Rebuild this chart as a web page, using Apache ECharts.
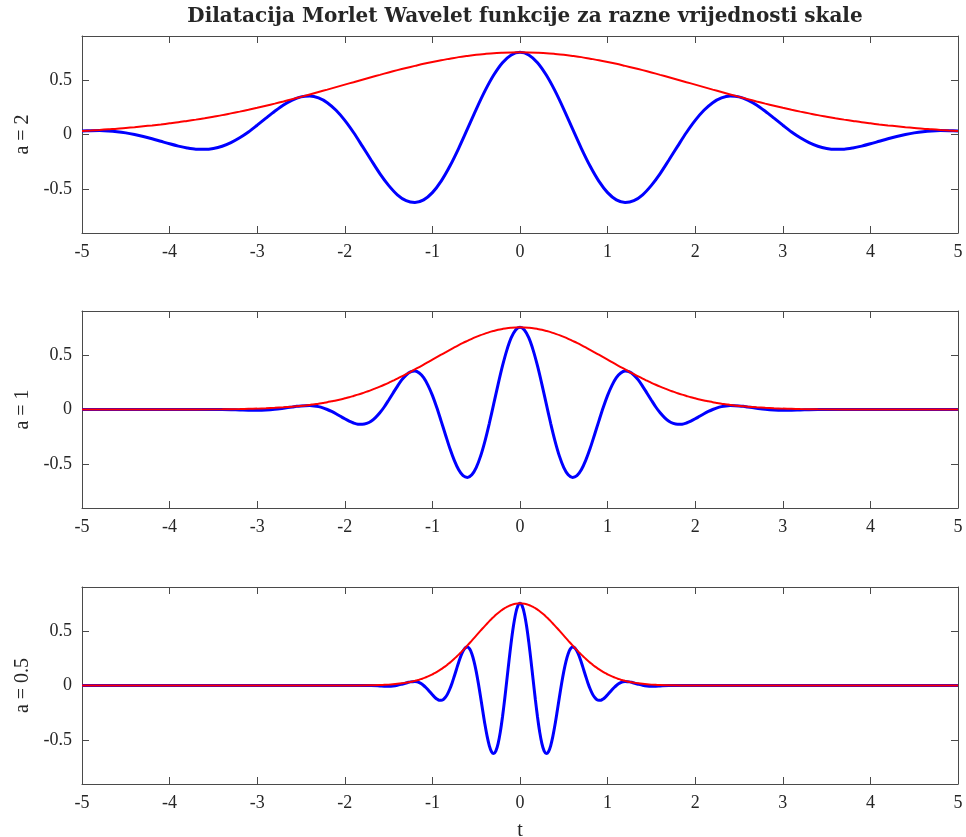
<!DOCTYPE html>
<html>
<head>
<meta charset="utf-8">
<script src="https://cdn.jsdelivr.net/npm/echarts@6/dist/echarts.min.js"></script>
<style>
    html, body { margin: 0; padding: 0; background: #fff; }
    #chart { width: 966px; height: 837px; }
</style>
</head>
<body>
<div id="chart"></div>
<script>
"use strict";
// a = 2 : t od -5 do 5, korak 0.1
const tA2 = [
    -5, -4.9, -4.8, -4.7, -4.6, -4.5, -4.4, -4.3, -4.2, -4.1,
    -4, -3.9, -3.8, -3.7, -3.6, -3.5, -3.4, -3.3, -3.2, -3.1,
    -3, -2.9, -2.8, -2.7, -2.6, -2.5, -2.4, -2.3, -2.2, -2.1,
    -2, -1.9, -1.8, -1.7, -1.6, -1.5, -1.4, -1.3, -1.2, -1.1,
    -1, -0.9, -0.8, -0.7, -0.6, -0.5, -0.4, -0.3, -0.2, -0.1,
    0,
    0.1, 0.2, 0.3, 0.4, 0.5, 0.6, 0.7, 0.8, 0.9, 1,
    1.1, 1.2, 1.3, 1.4, 1.5, 1.6, 1.7, 1.8, 1.9, 2,
    2.1, 2.2, 2.3, 2.4, 2.5, 2.6, 2.7, 2.8, 2.9, 3,
    3.1, 3.2, 3.3, 3.4, 3.5, 3.6, 3.7, 3.8, 3.9, 4,
    4.1, 4.2, 4.3, 4.4, 4.5, 4.6, 4.7, 4.8, 4.9, 5
];
const waveA2 = [
    0.033, 0.035, 0.036, 0.033, 0.026, 0.015, 0.000, -0.018, -0.039, -0.062,
    -0.085, -0.106, -0.123, -0.134, -0.135, -0.127, -0.107, -0.074, -0.030, 0.023,
    0.085, 0.149, 0.212, 0.270, 0.315, 0.344, 0.351, 0.334, 0.291, 0.221,
    0.129, 0.018, -0.106, -0.233, -0.357, -0.465, -0.551, -0.605, -0.621, -0.597,
    -0.531, -0.426, -0.288, -0.126, 0.051, 0.230, 0.398, 0.543, 0.656, 0.727,
    0.751,
    0.727, 0.656, 0.543, 0.398, 0.230, 0.051, -0.126, -0.288, -0.426, -0.531,
    -0.597, -0.621, -0.605, -0.551, -0.465, -0.357, -0.233, -0.106, 0.018, 0.129,
    0.221, 0.291, 0.334, 0.351, 0.344, 0.315, 0.270, 0.212, 0.149, 0.085,
    0.023, -0.030, -0.074, -0.107, -0.127, -0.135, -0.134, -0.123, -0.106, -0.085,
    -0.062, -0.039, -0.018, 0.000, 0.015, 0.026, 0.033, 0.036, 0.035, 0.033
];
const envA2 = [
    0.033, 0.037, 0.042, 0.048, 0.053, 0.060, 0.067, 0.075, 0.083, 0.092,
    0.102, 0.112, 0.124, 0.136, 0.149, 0.163, 0.177, 0.193, 0.209, 0.226,
    0.244, 0.263, 0.282, 0.302, 0.323, 0.344, 0.366, 0.388, 0.410, 0.433,
    0.456, 0.478, 0.501, 0.523, 0.545, 0.567, 0.588, 0.608, 0.627, 0.646,
    0.663, 0.679, 0.693, 0.707, 0.718, 0.728, 0.736, 0.743, 0.747, 0.750,
    0.751,
    0.750, 0.747, 0.743, 0.736, 0.728, 0.718, 0.707, 0.693, 0.679, 0.663,
    0.646, 0.627, 0.608, 0.588, 0.567, 0.545, 0.523, 0.501, 0.478, 0.456,
    0.433, 0.410, 0.388, 0.366, 0.344, 0.323, 0.302, 0.282, 0.263, 0.244,
    0.226, 0.209, 0.193, 0.177, 0.163, 0.149, 0.136, 0.124, 0.112, 0.102,
    0.092, 0.083, 0.075, 0.067, 0.060, 0.053, 0.048, 0.042, 0.037, 0.033
];

// a = 1
const tA1 = [
    -5, -4, -3.4, -3.2, -3.1, -3, -2.9, -2.8, -2.7, -2.6, -2.55,
    -2.5, -2.45, -2.4, -2.35, -2.3, -2.25, -2.2, -2.15, -2.1, -2.05,
    -2, -1.95, -1.9, -1.85, -1.8, -1.75, -1.7, -1.65, -1.6, -1.55,
    -1.5, -1.45, -1.4, -1.35, -1.3, -1.25, -1.2, -1.15, -1.1, -1.05,
    -1, -0.95, -0.9, -0.85, -0.8, -0.75, -0.7, -0.65, -0.6, -0.55,
    -0.5, -0.45, -0.4, -0.35, -0.3, -0.25, -0.2, -0.15, -0.1, -0.05,
    0,
    0.05, 0.1, 0.15, 0.2, 0.25, 0.3, 0.35, 0.4, 0.45, 0.5,
    0.55, 0.6, 0.65, 0.7, 0.75, 0.8, 0.85, 0.9, 0.95, 1,
    1.05, 1.1, 1.15, 1.2, 1.25, 1.3, 1.35, 1.4, 1.45, 1.5,
    1.55, 1.6, 1.65, 1.7, 1.75, 1.8, 1.85, 1.9, 1.95, 2,
    2.05, 2.1, 2.15, 2.2, 2.25, 2.3, 2.35, 2.4, 2.45, 2.5,
    2.55, 2.6, 2.7, 2.8, 2.9, 3, 3.1, 3.2, 3.4, 4, 5
];
const waveA1 = [
    0, 0, -0.001, -0.004, -0.006, -0.006, -0.004, 0.002, 0.012, 0.023, 0.029,
    0.033, 0.035, 0.036, 0.033, 0.026, 0.015, 0.000, -0.018, -0.039, -0.062,
    -0.085, -0.106, -0.123, -0.134, -0.135, -0.127, -0.107, -0.074, -0.030, 0.023,
    0.085, 0.149, 0.212, 0.270, 0.315, 0.344, 0.351, 0.334, 0.291, 0.221,
    0.129, 0.018, -0.106, -0.233, -0.357, -0.465, -0.551, -0.605, -0.621, -0.597,
    -0.531, -0.426, -0.288, -0.126, 0.051, 0.230, 0.398, 0.543, 0.656, 0.727,
    0.751,
    0.727, 0.656, 0.543, 0.398, 0.230, 0.051, -0.126, -0.288, -0.426, -0.531,
    -0.597, -0.621, -0.605, -0.551, -0.465, -0.357, -0.233, -0.106, 0.018, 0.129,
    0.221, 0.291, 0.334, 0.351, 0.344, 0.315, 0.270, 0.212, 0.149, 0.085,
    0.023, -0.030, -0.074, -0.107, -0.127, -0.135, -0.134, -0.123, -0.106, -0.085,
    -0.062, -0.039, -0.018, 0.000, 0.015, 0.026, 0.033, 0.036, 0.035, 0.033,
    0.029, 0.023, 0.012, 0.002, -0.004, -0.006, -0.006, -0.004, -0.001, 0, 0
];
const envA1 = [
    0, 0, 0.002, 0.004, 0.006, 0.008, 0.011, 0.015, 0.020, 0.026, 0.029,
    0.033, 0.037, 0.042, 0.048, 0.053, 0.060, 0.067, 0.075, 0.083, 0.092,
    0.102, 0.112, 0.124, 0.136, 0.149, 0.163, 0.177, 0.193, 0.209, 0.226,
    0.244, 0.263, 0.282, 0.302, 0.323, 0.344, 0.366, 0.388, 0.410, 0.433,
    0.456, 0.478, 0.501, 0.523, 0.545, 0.567, 0.588, 0.608, 0.627, 0.646,
    0.663, 0.679, 0.693, 0.707, 0.718, 0.728, 0.736, 0.743, 0.747, 0.750,
    0.751,
    0.750, 0.747, 0.743, 0.736, 0.728, 0.718, 0.707, 0.693, 0.679, 0.663,
    0.646, 0.627, 0.608, 0.588, 0.567, 0.545, 0.523, 0.501, 0.478, 0.456,
    0.433, 0.410, 0.388, 0.366, 0.344, 0.323, 0.302, 0.282, 0.263, 0.244,
    0.226, 0.209, 0.193, 0.177, 0.163, 0.149, 0.136, 0.124, 0.112, 0.102,
    0.092, 0.083, 0.075, 0.067, 0.060, 0.053, 0.048, 0.042, 0.037, 0.033,
    0.029, 0.026, 0.020, 0.015, 0.011, 0.008, 0.006, 0.004, 0.002, 0, 0
];

// a = 0.5
const tA05 = [
    -5, -2, -1.7, -1.6, -1.55, -1.5, -1.45, -1.4, -1.35, -1.3, -1.275,
    -1.25, -1.225, -1.2, -1.175, -1.15, -1.125, -1.1, -1.075, -1.05, -1.025,
    -1, -0.975, -0.95, -0.925, -0.9, -0.875, -0.85, -0.825, -0.8, -0.775,
    -0.75, -0.725, -0.7, -0.675, -0.65, -0.625, -0.6, -0.575, -0.55, -0.525,
    -0.5, -0.475, -0.45, -0.425, -0.4, -0.375, -0.35, -0.325, -0.3, -0.275,
    -0.25, -0.225, -0.2, -0.175, -0.15, -0.125, -0.1, -0.075, -0.05, -0.025,
    0,
    0.025, 0.05, 0.075, 0.1, 0.125, 0.15, 0.175, 0.2, 0.225, 0.25,
    0.275, 0.3, 0.325, 0.35, 0.375, 0.4, 0.425, 0.45, 0.475, 0.5,
    0.525, 0.55, 0.575, 0.6, 0.625, 0.65, 0.675, 0.7, 0.725, 0.75,
    0.775, 0.8, 0.825, 0.85, 0.875, 0.9, 0.925, 0.95, 0.975, 1,
    1.025, 1.05, 1.075, 1.1, 1.125, 1.15, 1.175, 1.2, 1.225, 1.25,
    1.275, 1.3, 1.35, 1.4, 1.45, 1.5, 1.55, 1.6, 1.7, 2, 5
];
const waveA05 = [
    0, 0, -0.001, -0.004, -0.006, -0.006, -0.004, 0.002, 0.012, 0.023, 0.029,
    0.033, 0.035, 0.036, 0.033, 0.026, 0.015, 0.000, -0.018, -0.039, -0.062,
    -0.085, -0.106, -0.123, -0.134, -0.135, -0.127, -0.107, -0.074, -0.030, 0.023,
    0.085, 0.149, 0.212, 0.270, 0.315, 0.344, 0.351, 0.334, 0.291, 0.221,
    0.129, 0.018, -0.106, -0.233, -0.357, -0.465, -0.551, -0.605, -0.621, -0.597,
    -0.531, -0.426, -0.288, -0.126, 0.051, 0.230, 0.398, 0.543, 0.656, 0.727,
    0.751,
    0.727, 0.656, 0.543, 0.398, 0.230, 0.051, -0.126, -0.288, -0.426, -0.531,
    -0.597, -0.621, -0.605, -0.551, -0.465, -0.357, -0.233, -0.106, 0.018, 0.129,
    0.221, 0.291, 0.334, 0.351, 0.344, 0.315, 0.270, 0.212, 0.149, 0.085,
    0.023, -0.030, -0.074, -0.107, -0.127, -0.135, -0.134, -0.123, -0.106, -0.085,
    -0.062, -0.039, -0.018, 0.000, 0.015, 0.026, 0.033, 0.036, 0.035, 0.033,
    0.029, 0.023, 0.012, 0.002, -0.004, -0.006, -0.006, -0.004, -0.001, 0, 0
];
const envA05 = [
    0, 0, 0.002, 0.004, 0.006, 0.008, 0.011, 0.015, 0.020, 0.026, 0.029,
    0.033, 0.037, 0.042, 0.048, 0.053, 0.060, 0.067, 0.075, 0.083, 0.092,
    0.102, 0.112, 0.124, 0.136, 0.149, 0.163, 0.177, 0.193, 0.209, 0.226,
    0.244, 0.263, 0.282, 0.302, 0.323, 0.344, 0.366, 0.388, 0.410, 0.433,
    0.456, 0.478, 0.501, 0.523, 0.545, 0.567, 0.588, 0.608, 0.627, 0.646,
    0.663, 0.679, 0.693, 0.707, 0.718, 0.728, 0.736, 0.743, 0.747, 0.750,
    0.751,
    0.750, 0.747, 0.743, 0.736, 0.728, 0.718, 0.707, 0.693, 0.679, 0.663,
    0.646, 0.627, 0.608, 0.588, 0.567, 0.545, 0.523, 0.501, 0.478, 0.456,
    0.433, 0.410, 0.388, 0.366, 0.344, 0.323, 0.302, 0.282, 0.263, 0.244,
    0.226, 0.209, 0.193, 0.177, 0.163, 0.149, 0.136, 0.124, 0.112, 0.102,
    0.092, 0.083, 0.075, 0.067, 0.060, 0.053, 0.048, 0.042, 0.037, 0.033,
    0.029, 0.026, 0.020, 0.015, 0.011, 0.008, 0.006, 0.004, 0.002, 0, 0
];

const xTicks = [-5, -4, -3, -2, -1, 0, 1, 2, 3, 4, 5];
const yTicks = [-0.5, 0, 0.5];
const panelNames = ['a = 2', 'a = 1', 'a = 0.5'];

const panels = [
    { t: tA2, wave: waveA2, env: envA2 },
    { t: tA1, wave: waveA1, env: envA1 },
    { t: tA05, wave: waveA05, env: envA05 }
];

const serif = 'Liberation Serif';
const frameColor = '#4a4a4a';
const textColor = '#262626';
const gridTops = [36, 311, 587];
const gridHeight = 197;

let chart = echarts.init(document.getElementById('chart'));

let grid = [], xAxis = [], yAxis = [], series = [];
panels.forEach((p, i) => {
    grid.push({ left: 82, right: 8, top: gridTops[i], height: gridHeight, outerBoundsMode: 'none' });
    let common = {
        type: 'value',
        gridIndex: i,
        min: -5,
        max: 5,
        interval: 1,
        splitLine: { show: false },
        axisLine: { show: true, onZero: false, lineStyle: { color: frameColor, width: 1 } },
        axisTick: { show: true, inside: true, length: 7, lineStyle: { color: frameColor } }
    };
    // donja os s oznakama
    xAxis.push(Object.assign({}, common, {
        position: 'bottom',
        axisLabel: {
            show: true, margin: 10, color: textColor,
            fontFamily: serif, fontSize: 18,
            customValues: xTicks
        },
        name: i === 2 ? 't' : '',
        nameLocation: 'middle',
        nameGap: 37,
        nameTextStyle: { fontFamily: serif, fontSize: 20, color: textColor }
    }));
    // gornja os, samo crtice
    xAxis.push(Object.assign({}, common, {
        position: 'top',
        axisLabel: { show: false }
    }));
    let yCommon = {
        type: 'value',
        gridIndex: i,
        min: -0.9,
        max: 0.9,
        splitLine: { show: false },
        axisLine: { show: true, onZero: false, lineStyle: { color: frameColor, width: 1 } },
        axisTick: { show: true, inside: true, length: 7, customValues: yTicks, lineStyle: { color: frameColor } }
    };
    yAxis.push(Object.assign({}, yCommon, {
        position: 'left',
        axisLabel: {
            show: true, margin: 10, color: textColor,
            fontFamily: serif, fontSize: 18,
            customValues: yTicks
        },
        name: panelNames[i],
        nameLocation: 'middle',
        nameGap: 49,
        nameRotate: 90,
        nameTextStyle: { fontFamily: serif, fontSize: 20, color: textColor }
    }));
    yAxis.push(Object.assign({}, yCommon, {
        position: 'right',
        axisLabel: { show: false }
    }));

    series.push({
        type: 'line',
        xAxisIndex: 2 * i,
        yAxisIndex: 2 * i,
        data: p.t.map((t, k) => [t, p.wave[k]]),
        showSymbol: false,
        symbol: 'none',
        smooth: 0.3,
        lineStyle: { color: '#0000ff', width: 3 },
        z: 2
    });
    series.push({
        type: 'line',
        xAxisIndex: 2 * i,
        yAxisIndex: 2 * i,
        data: p.t.map((t, k) => [t, p.env[k]]),
        showSymbol: false,
        symbol: 'none',
        smooth: 0.3,
        lineStyle: { color: '#ff0000', width: 2 },
        z: 3
    });
});

chart.setOption({
    animation: false,
    backgroundColor: '#fff',
    title: {
        text: 'Dilatacija Morlet Wavelet funkcije za razne vrijednosti skale',
        left: 520,
        textAlign: 'center',
        top: 2,
        textStyle: { fontFamily: 'DejaVu Serif', fontWeight: 'bold', fontSize: 20, color: textColor }
    },
    grid: grid,
    xAxis: xAxis,
    yAxis: yAxis,
    series: series
});
</script>
</body>
</html>
